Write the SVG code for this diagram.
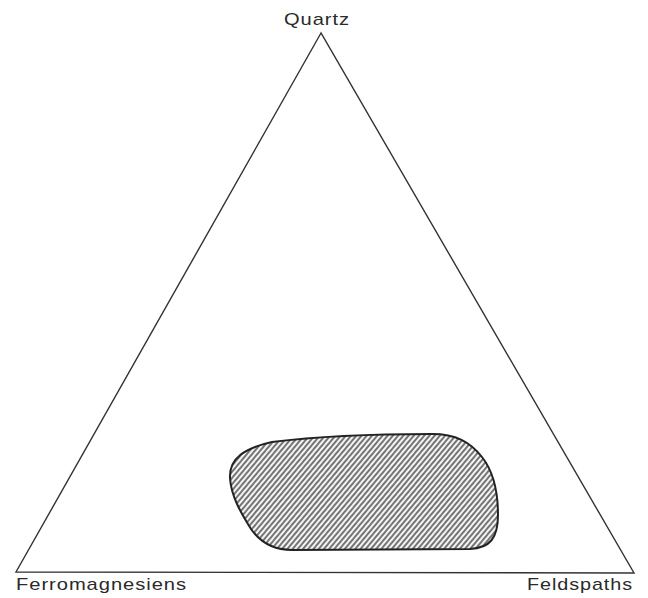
<svg xmlns="http://www.w3.org/2000/svg" width="648" height="598" viewBox="0 0 648 598">
<style>
.lbl{font-family:"Liberation Sans",Arial,sans-serif;font-size:17px;fill:#2a2a2a;letter-spacing:0.8px}
.tri{fill:none;stroke:#333;stroke-width:1.4}
</style>
<defs>
<pattern id="hatch" width="4" height="4" patternUnits="userSpaceOnUse" patternTransform="rotate(40)">
<rect width="4" height="4" fill="#f4f4f4"/>
<line x1="1" y1="0" x2="1" y2="4" stroke="#555" stroke-width="1.6"/>
</pattern>
</defs>
<rect width="648" height="598" fill="#fff"/>
<g id="triangle">
<polygon class="tri" points="321,33 16,572 634,573"/>
</g>
<g id="field">
<path d="M 230,478 C 229,458 245,448 272,442 C 320,436 380,434 432,434 C 456,434 470,442 482,457 C 493,471 498,492 498,515 C 498,538 490,548 470,549 L 292,550 C 272,550 260,542 251,529 C 241,513 231,496 230,478 Z" fill="url(#hatch)" stroke="#222" stroke-width="2"/>
</g>
<g id="labels">
<text class="lbl" x="284" y="25" textLength="66" lengthAdjust="spacingAndGlyphs">Quartz</text>
<text class="lbl" x="16" y="590" textLength="171" lengthAdjust="spacingAndGlyphs">Ferromagnesiens</text>
<text class="lbl" x="527" y="590" textLength="106" lengthAdjust="spacingAndGlyphs">Feldspaths</text>
</g>
</svg>
